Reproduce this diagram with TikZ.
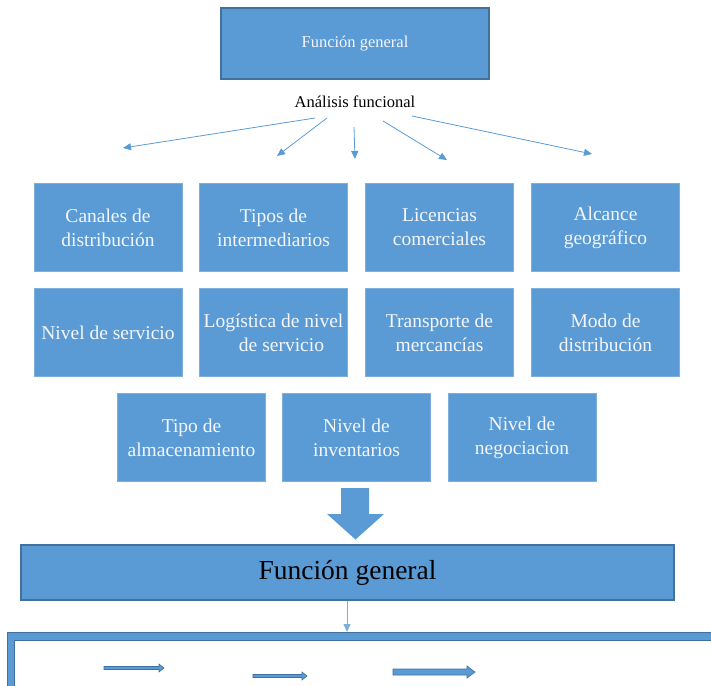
\documentclass[tikz,border=0pt]{standalone}
\usepackage{fontspec}
\setmainfont{Liberation Serif}
\usetikzlibrary{arrows.meta}
\definecolor{boxblue}{HTML}{5B9BD5}
\definecolor{edgeblue}{HTML}{41719C}
\definecolor{txtwhite}{HTML}{F4F6FA}
\begin{document}
\begin{tikzpicture}[x=1pt,y=-1pt,
  cell/.style={fill=boxblue, draw=boxblue!80!white, line width=0.6pt,
    minimum width=148pt, minimum height=88pt, inner sep=0pt,
    text=txtwhite, align=center, font=\fontsize{19.5}{24}\selectfont},
  thinarrow/.style={draw=boxblue, line width=0.8pt,
    -{Triangle[length=8pt,width=7pt]}},
  blockarrow/.style={fill=boxblue, draw=edgeblue, line width=0.6pt}
]
\useasboundingbox (0,0) rectangle (711,685);

% top box
\node[fill=boxblue, draw=edgeblue, line width=1.2pt, minimum width=268pt,
  minimum height=71pt, text=txtwhite, font=\fontsize{16.5}{19}\selectfont]
  (top) at (355,43.5) {Función general};
\node[font=\fontsize{16.5}{19}\selectfont, inner sep=1pt] (af) at (355,102) {Análisis funcional};

% fan arrows
\coordinate (s1) at (315,118); \coordinate (e1) at (123,148);
\coordinate (s2) at (327,118); \coordinate (e2) at (277,156);
\coordinate (s3) at (354,127); \coordinate (e3) at (355,159);
\coordinate (s4) at (383,121); \coordinate (e4) at (447,160);
\coordinate (s5) at (412,116); \coordinate (e5) at (592,154);
\foreach \i in {1,...,5} \draw[thinarrow] (s\i) -- (e\i);

% grid
\node[cell] (c11) at (108,227.5) {Canales de\\distribución};
\node[cell] (c12) at (273.5,227.5) {Tipos de\\intermediarios};
\node[cell] (c13) at (439.5,227.5) {Licencias\\comerciales};
\node[cell] (c14) at (605.5,227.5) {Alcance\\geográfico};
\node[cell] (c21) at (108,332.5) {Nivel de servicio};
\node[cell] (c22) at (273.5,332.5) {Logística de nivel\\\hspace*{16pt}de servicio};
\node[cell] (c23) at (439.5,332.5) {Transporte de\\mercancías};
\node[cell] (c24) at (605.5,332.5) {Modo de\\distribución};
\node[cell] (c31) at (191.5,437.5) {Tipo de\\almacenamiento};
\node[cell] (c32) at (356.5,437.5) {Nivel de\\inventarios};
\node[cell] (c33) at (522,437.5) {Nivel de\\negociacion};

% big down arrow
\fill[boxblue] (341,488) -- (369,488) -- (369,514) -- (384,514) -- (355.5,539.5)
  -- (327,514) -- (341,514) -- cycle;

% bottom general box
\node[fill=boxblue, draw=edgeblue, line width=1.2pt, minimum width=653pt,
  minimum height=55pt, font=\fontsize{27.5}{31}\selectfont]
  (gen) at (347.5,572.5) {Función general};

% bottom frame
\coordinate (fr) at (347,632);
\draw[thinarrow, draw=boxblue!80!white] (gen.south -| fr) -- (fr);
\filldraw[fill=boxblue, draw=edgeblue, line width=0.8pt] (7,632) rectangle (730,700);
\filldraw[fill=white, draw=edgeblue, line width=0.8pt] (14,640) rectangle (730,700);

% small block arrows
\filldraw[blockarrow] (104,666.5) -- (159,666.5) -- (159,664) -- (164,668) -- (159,672)
  -- (159,669.5) -- (104,669.5) -- cycle;
\filldraw[blockarrow] (253,674.5) -- (302,674.5) -- (302,672) -- (307,676) -- (302,680)
  -- (302,677.5) -- (253,677.5) -- cycle;
\filldraw[blockarrow] (393,669) -- (467,669) -- (467,666) -- (475,672) -- (467,678)
  -- (467,675) -- (393,675) -- cycle;
\end{tikzpicture}
\end{document}
